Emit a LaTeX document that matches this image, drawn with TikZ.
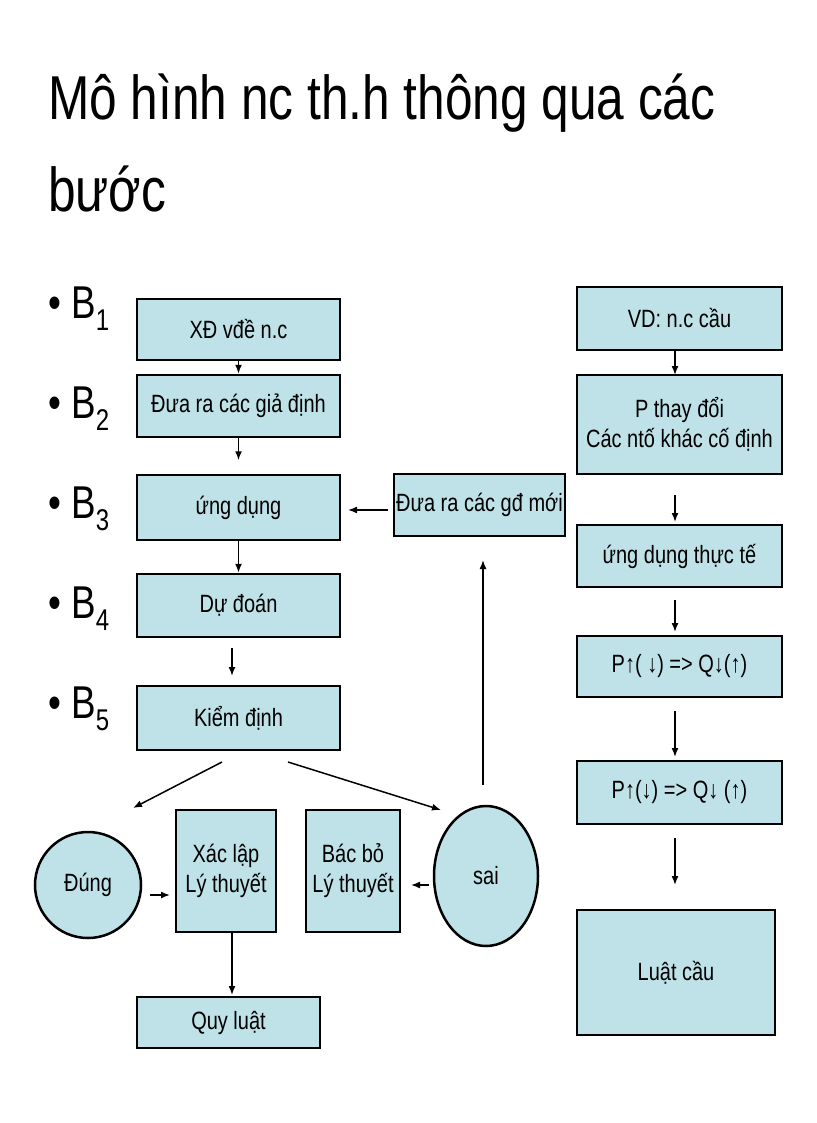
\documentclass[tikz,border=0pt]{standalone}
\usepackage{fontspec}
\setmainfont[FakeStretch=0.8]{Liberation Sans}
\usetikzlibrary{shapes.geometric,arrows.meta}
\begin{document}
\begin{tikzpicture}[x=1pt,y=-1pt,
  bx/.style={draw=black,line width=2.5pt,fill=boxc,inner sep=0pt,font=\fontsize{25}{30}\selectfont,align=center},
  ar/.style={-{Latex[length=9pt,width=7pt]},line width=1.5pt},
  bl/.style={anchor=base west,font=\fontsize{46}{46}\selectfont}]
\definecolor{boxc}{RGB}{190,226,232}
\useasboundingbox (0,0) rectangle (816,1123);
\node[anchor=base west,inner sep=0pt,font=\fontsize{62}{62}\selectfont] (t1) at (48,120) {Mô hình nc th.h thông qua các};
\node[anchor=base west,inner sep=0pt,font=\fontsize{62}{62}\selectfont] (t2) at (48,212) {bước};
\foreach \i/\y in {1/318,2/418,3/518,4/618,5/718}{
  \node[bl] (b\i) at (45,\y) {•\hspace{10pt}B\raisebox{-12pt}{\fontsize{30}{30}\selectfont\i}};
}
\newcommand\bxat[5]{\node[bx,minimum width=#3-#1,minimum height=#4-#2] (#5) at ({(#1+#3)/2},{(#2+#4)/2})}
\bxat{137}{299}{340}{360}{n1} {XĐ vđề n.c};
\bxat{137}{375}{340}{437}{n2} {Đưa ra các giả định};
\bxat{137}{475}{340}{540}{n3} {ứng dụng};
\bxat{137}{574}{340}{637}{n4} {Dự đoán};
\bxat{137}{686}{340}{750}{n5} {Kiểm định};
\bxat{394}{474}{565}{536}{g} {Đưa ra các gđ mới};
\bxat{176}{810}{276}{932}{x} {Xác lập\\Lý thuyết};
\bxat{306}{810}{400}{932}{bb} {Bác bỏ\\Lý thuyết};
\bxat{137}{997}{320}{1048}{q} {Quy luật};
\node[bx,circle,minimum size=106pt] (d) at (88,885) {Đúng};
\node[bx,ellipse,minimum width=104pt,minimum height=140pt] (s) at (486,876) {sai};
\bxat{577}{287}{782}{350}{r1} {VD: n.c cầu};
\bxat{577}{375}{782}{474}{r2} {P thay đổi\\Các ntố khác cố định};
\bxat{577}{525}{782}{587}{r3} {ứng dụng thực tế};
\bxat{577}{636}{782}{697}{r4} {P↑( ↓) => Q↓(↑)};
\bxat{577}{761}{782}{824}{r5} {P↑(↓) => Q↓ (↑)};
\bxat{577}{910}{775}{1035}{r6} {Luật cầu};
\draw[ar] (n1.south) -- (n2.north);
\draw[ar] (n2.south) -- ++(0,22);
\draw[ar] (n3.south) -- (n4.north);
\draw[ar] (232,648) -- (232,676);
\draw[ar] (388,510) -- (348,510);
\draw[ar] (483,785) -- (483,560);
\draw[ar] (222,762) -- (133,808);
\draw[ar] (288,762) -- (441,810);
\draw[ar] (150,895) -- (170,895);
\draw[ar] (429,885) -- (411,885);
\draw[ar] (232,932) -- (232,995);
\draw[ar] (675,350) -- (675,375);
\draw[ar] (675,495) -- (675,522);
\draw[ar] (675,600) -- (675,632);
\draw[ar] (675,711) -- (675,757);
\draw[ar] (675,838) -- (675,885);
\end{tikzpicture}
\end{document}
